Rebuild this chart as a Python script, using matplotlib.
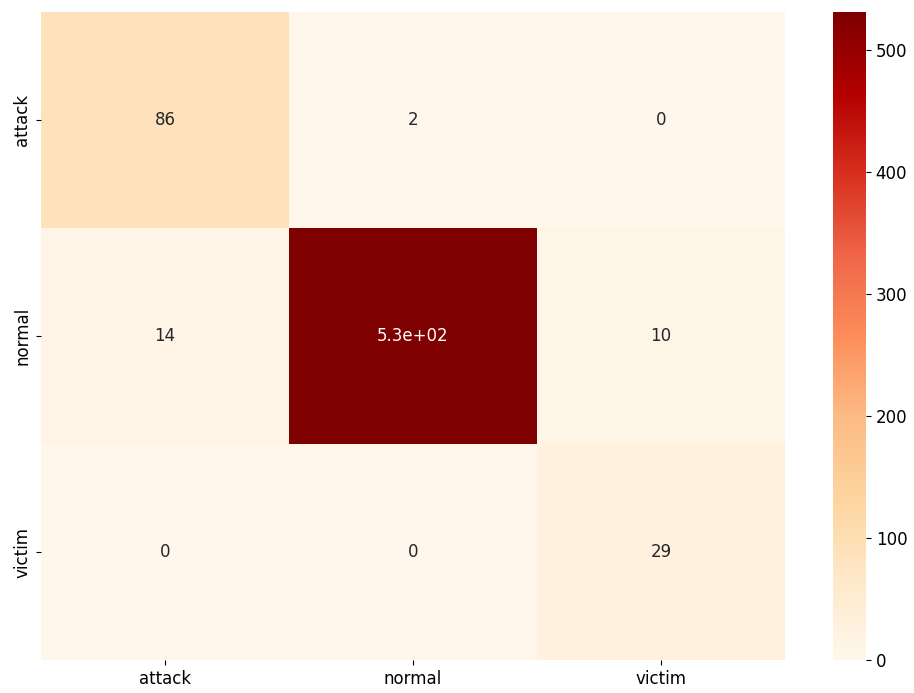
import numpy as np
import matplotlib
matplotlib.use("Agg")
import matplotlib.pyplot as plt
import seaborn as sns

labels = ["attack", "normal", "victim"]
row_attack = [86, 2, 0]
row_normal = [14, 531, 10]
row_victim = [0, 0, 29]

cm = np.array([row_attack, row_normal, row_victim])

plt.rcParams["font.size"] = 12

fig = plt.figure(figsize=(9.14, 6.93), dpi=100)
W, H = 914, 693
ax = fig.add_axes([41 / W, (H - 660) / H, 744 / W, 648 / H])
cax = fig.add_axes([833 / W, (H - 660) / H, 33 / W, 648 / H])

sns.heatmap(cm, annot=True, cmap="OrRd", xticklabels=labels, yticklabels=labels,
            ax=ax, cbar_ax=cax)

plt.savefig("out.png", dpi=100)
